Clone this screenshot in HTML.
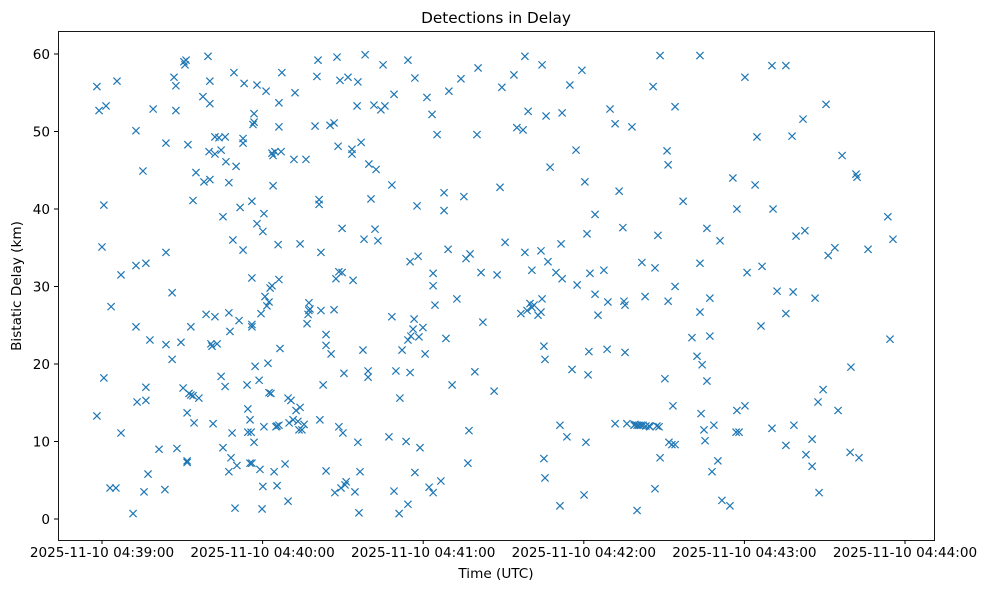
<!DOCTYPE html>
<html><head><meta charset="utf-8"><style>
body{margin:0;background:#fff;font-family:"Liberation Sans","DejaVu Sans",sans-serif}
svg text{font-family:"DejaVu Sans","Liberation Sans",sans-serif;fill:#000}
</style></head><body>
<svg id="chart" width="986" height="590" viewBox="0 0 986 590" xmlns="http://www.w3.org/2000/svg">
<rect width="986" height="590" fill="#fff"/>
<text x="496" y="23" font-size="15.3" text-anchor="middle">Detections in Delay</text>
<text x="496" y="578" font-size="13.6" text-anchor="middle">Time (UTC)</text>
<text transform="translate(21,286) rotate(-90)" font-size="13.6" text-anchor="middle">Bistatic Delay (km)</text>
<g id="marks"></g>
<g id="axes"></g>
<rect x="58.5" y="31.5" width="876" height="509" fill="none" stroke="#000" stroke-width="0.9"/>
</svg>
<script>
const xTickLabels=["2025-11-10 04:39:00","2025-11-10 04:40:00","2025-11-10 04:41:00","2025-11-10 04:42:00","2025-11-10 04:43:00","2025-11-10 04:44:00"];
const xTickSeconds=[0,60,120,180,240,300];
const yTicks=[0,10,20,30,40,50,60];
const timeSec=[-1.9,-1.1,1.5,-1.9,0,0.7,0.7,3.4,3.0,5.2,5.6,7.1,7.1,11.6,12.7,12.7,12.7,13.1,15.3,16.4,15.7,16.4,16.4,17.2,17.9,19.1,21.3,23.9,23.9,23.9,23.5,26.2,26.2,26.9,27.6,27.6,28.0,29.5,30.6,31.0,31.4,30.3,31.8,31.8,31.8,32.1,32.5,33.2,34.0,33.2,34.4,34.0,35.1,36.2,37.7,38.1,38.9,39.6,40.0,40.3,40.3,40.3,40.7,41.1,41.5,42.2,42.2,42.2,43.0,43.7,44.5,44.5,45.2,45.2,46.0,46.0,46.3,47.4,47.4,47.8,47.4,48.2,48.6,48.9,49.3,49.7,50.1,50.4,51.2,51.6,52.7,52.7,52.7,53.1,54.2,54.5,54.5,55.3,55.3,55.7,56.0,56.0,56.0,56.0,56.0,56.4,56.8,56.8,56.8,57.2,57.9,57.9,58.7,59.0,59.4,60.1,60.5,59.8,60.1,60.5,60.9,61.3,61.6,62.0,62.4,62.4,62.8,63.1,63.5,63.5,63.9,63.9,64.3,64.6,65.0,65.4,65.4,65.8,66.1,66.1,66.1,66.1,66.5,66.9,67.2,68.4,69.5,69.5,69.9,70.6,71.4,71.7,72.1,72.5,73.2,73.6,74.0,74.0,74.7,75.5,76.2,76.6,77.0,77.3,77.3,77.7,79.6,80.3,80.7,81.1,81.1,81.8,81.8,81.4,82.6,83.7,83.7,83.7,85.2,85.6,86.7,86.7,87.0,87.4,87.8,88.2,88.5,88.5,88.9,89.3,89.7,89.7,90.0,90.4,90.8,91.2,91.9,93.4,93.4,93.8,94.5,95.3,95.6,96.0,95.6,96.4,96.8,97.5,97.9,98.3,99.4,99.7,100.5,99.4,101.6,102.0,102.4,103.1,104.2,105.0,105.7,107.2,108.3,108.3,109.1,109.1,109.8,111.0,111.3,112.1,113.6,114.3,115.1,114.3,114.3,115.1,115.4,116.2,116.6,116.9,116.9,117.7,118.1,118.4,118.8,119.9,120.7,121.4,122.2,123.3,123.7,123.7,123.7,124.4,125.2,126.6,127.8,127.8,128.5,129.3,129.6,130.8,132.6,134.1,135.2,136.0,136.7,137.1,137.5,139.3,140.1,140.5,141.6,142.3,146.5,147.6,148.7,149.4,150.6,153.9,155.0,156.5,157.3,158.0,158.0,158.8,159.2,159.9,160.6,160.6,161.4,162.9,164.0,164.0,164.4,164.4,165.1,165.1,165.5,165.5,165.9,166.6,167.4,169.6,171.1,171.1,171.5,171.9,171.9,173.7,174.8,175.6,177.1,177.5,179.3,180.1,180.4,180.8,181.2,181.6,181.9,182.3,184.2,184.2,185.3,187.5,188.7,189.0,189.8,191.7,191.7,193.2,194.6,195.0,195.4,195.4,196.1,198.0,198.8,199.1,199.9,199.9,200.6,201.4,201.7,202.1,202.9,203.2,204.4,204.7,205.9,206.6,206.6,207.3,207.7,208.1,208.5,208.5,210.3,211.1,211.5,211.5,211.8,212.9,213.3,214.1,214.1,214.1,217.1,220.4,222.3,223.4,223.4,223.4,223.8,224.2,224.9,225.3,226.0,226.0,227.1,227.1,227.9,228.6,230.1,230.9,231.6,234.6,235.7,236.9,237.2,237.2,238.0,240.2,240.2,241.0,244.0,244.7,246.2,246.6,250.3,250.3,250.7,252.2,255.5,255.5,255.5,257.8,258.2,258.5,259.3,261.9,262.6,263.0,265.3,265.3,266.4,267.5,267.9,269.4,270.5,271.3,273.8,275.0,276.5,279.5,279.8,281.7,282.1,282.8,286.2,293.6,294.4,295.5];
const delayKm=[55.8,52.7,53.3,13.3,35.1,40.5,18.2,27.4,4.0,4.0,56.5,31.5,11.1,0.7,50.1,32.7,24.8,15.1,44.9,33.0,3.5,17.0,15.3,5.8,23.1,52.9,9.0,34.4,22.5,48.5,3.8,29.2,20.6,57.0,55.9,52.7,9.1,22.8,59.0,58.6,59.2,16.9,13.7,7.5,7.3,48.3,16.2,16.0,41.1,24.8,12.4,15.9,44.7,15.6,54.5,43.5,26.4,59.7,47.4,56.5,53.6,43.8,22.6,22.3,12.3,49.3,47.1,26.1,22.6,49.2,47.6,18.4,39.0,9.2,17.1,49.3,46.1,26.6,43.4,24.2,6.1,7.9,11.1,36.0,57.6,1.4,45.5,6.9,25.6,40.2,34.7,49.1,48.5,56.2,17.3,11.2,14.2,12.8,7.2,11.2,7.2,31.1,41.0,25.1,24.8,50.9,52.3,51.2,9.9,19.7,56.0,38.1,17.9,6.4,26.5,37.1,39.4,1.3,4.2,11.9,28.7,55.2,27.5,20.1,28.0,16.3,29.8,16.2,30.1,47.2,43.0,46.9,6.1,47.4,11.9,4.3,12.0,35.4,30.9,53.7,50.6,12.1,22.0,47.4,57.6,7.1,2.3,15.6,12.4,15.3,12.8,46.4,55.0,14.0,12.6,11.5,35.5,14.4,11.5,12.2,46.4,25.2,26.4,26.9,27.9,27.1,50.7,57.1,59.2,40.6,41.2,26.9,34.4,12.8,17.3,23.8,22.4,6.2,50.8,21.3,51.1,27.0,3.4,31.0,59.6,48.1,11.9,31.9,56.6,4.0,31.8,37.5,11.1,18.8,4.4,4.8,57.0,47.7,47.1,30.8,3.5,53.3,9.9,0.8,56.4,6.1,48.6,21.8,36.1,59.9,18.3,45.8,41.3,19.1,53.4,37.4,45.1,35.9,52.8,58.6,53.3,10.6,43.1,26.1,54.8,3.6,19.1,0.7,15.6,21.8,10.0,23.1,33.2,59.2,1.9,18.9,23.6,24.5,25.8,56.9,6.0,40.4,33.9,23.5,9.2,24.7,21.3,54.4,4.1,52.2,3.4,31.7,30.1,27.6,49.6,4.9,42.1,39.8,23.3,34.8,55.2,17.3,28.4,56.8,41.6,33.6,7.2,11.4,34.2,19.0,49.6,58.2,31.8,25.4,16.5,31.5,42.8,55.7,35.7,57.3,50.5,26.5,50.2,34.4,59.7,26.9,52.6,27.8,32.1,27.3,27.6,26.3,26.7,34.6,28.4,58.6,22.3,7.8,5.3,20.6,52.0,33.2,45.4,31.8,1.7,12.1,35.5,52.4,31.0,10.6,56.0,19.3,47.6,30.2,57.9,3.1,43.5,9.9,36.8,18.6,21.6,31.7,39.3,29.0,26.3,32.1,21.9,28.0,52.9,12.3,51.0,42.3,37.6,28.1,27.6,21.5,12.3,50.6,12.1,12.2,1.1,12.1,12.1,12.1,33.1,12.1,28.7,12.0,12.0,11.9,55.8,32.4,3.9,12.0,36.6,11.9,7.9,59.8,18.1,47.5,28.1,45.7,9.9,9.6,14.6,9.6,53.2,30.0,41.0,23.4,21.0,59.8,33.0,26.7,13.6,19.9,11.5,10.1,17.8,37.5,23.6,28.5,6.1,12.1,7.5,35.9,2.4,1.7,44.0,11.2,40.0,14.0,11.2,14.6,57.0,31.8,43.1,49.3,24.9,32.6,58.5,11.7,40.0,29.4,58.5,26.5,9.5,49.4,29.3,12.1,36.5,51.6,37.2,8.3,10.3,6.8,28.5,15.1,3.4,16.7,53.5,34.0,35.0,14.0,46.9,8.6,19.6,44.5,44.1,7.9,34.8,39.0,23.2,36.1];

const NS="http://www.w3.org/2000/svg";
const X0=102, PXPS=160.6/60, Y0=519, PXPK=7.75;
function xScale(s){return X0+s*PXPS;}
function yScale(v){return Y0-v*PXPK;}
const marks=document.getElementById('marks');
const axes=document.getElementById('axes');
for(let i=0;i<timeSec.length;i++){
  const cx=xScale(timeSec[i]), cy=yScale(delayKm[i]), r=3.6;
  const p=document.createElementNS(NS,'path');
  p.setAttribute('d',`M${cx-r},${cy-r}L${cx+r},${cy+r}M${cx-r},${cy+r}L${cx+r},${cy-r}`);
  p.setAttribute('stroke','#1f77b4');p.setAttribute('stroke-width','1.2');p.setAttribute('fill','none');
  
  
  marks.appendChild(p);
}
xTickSeconds.forEach((s,i)=>{
  const x=xScale(s);
  const l=document.createElementNS(NS,'line');
  l.setAttribute('x1',x);l.setAttribute('x2',x);l.setAttribute('y1',540);l.setAttribute('y2',544);l.setAttribute('stroke','#000');
  
  
  axes.appendChild(l);
  const t=document.createElementNS(NS,'text');
  t.setAttribute('x',x);t.setAttribute('y',557);t.setAttribute('font-size','13.6');t.setAttribute('text-anchor','middle');
  t.textContent=xTickLabels[i];
  
  
  axes.appendChild(t);
});
yTicks.forEach(v=>{
  const y=yScale(v);
  const l=document.createElementNS(NS,'line');
  l.setAttribute('x1',54);l.setAttribute('x2',58);l.setAttribute('y1',y);l.setAttribute('y2',y);l.setAttribute('stroke','#000');
  
  
  axes.appendChild(l);
  const t=document.createElementNS(NS,'text');
  t.setAttribute('x',50);t.setAttribute('y',y+5);t.setAttribute('font-size','13.6');t.setAttribute('text-anchor','end');
  t.textContent=v;
  
  
  axes.appendChild(t);
});
</script>
</body></html>
